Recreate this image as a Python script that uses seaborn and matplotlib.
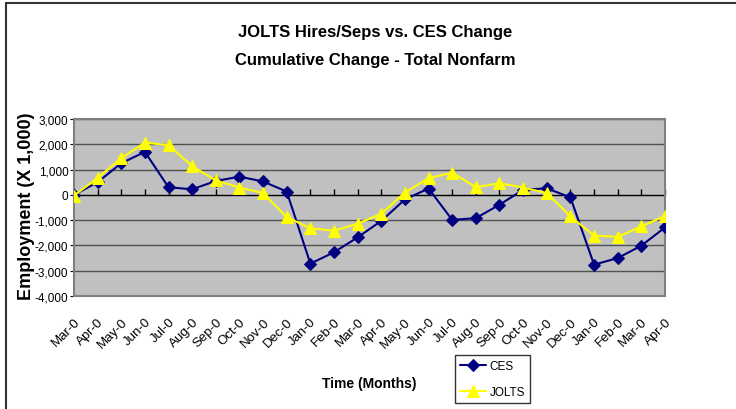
import numpy as np
import pandas as pd
import matplotlib
matplotlib.use("Agg")
import matplotlib.pyplot as plt
import seaborn as sns
from matplotlib.ticker import FuncFormatter

# Data
months = ["Mar-0", "Apr-0", "May-0", "Jun-0", "Jul-0", "Aug-0", "Sep-0", "Oct-0", "Nov-0",
          "Dec-0", "Jan-0", "Feb-0", "Mar-0", "Apr-0", "May-0", "Jun-0", "Jul-0", "Aug-0",
          "Sep-0", "Oct-0", "Nov-0", "Dec-0", "Jan-0", "Feb-0", "Mar-0", "Apr-0"]
ces = [0, 500, 1250, 1700, 300, 220, 550, 720, 530, 130, -2720, -2270, -1680, -1030,
       -180, 250, -990, -920, -390, 200, 260, -100, -2760, -2500, -2010, -1290]
jolts = [-30, 670, 1450, 2070, 1960, 1140, 570, 290, 70, -880, -1320, -1420, -1140,
         -750, 90, 660, 880, 300, 460, 290, 70, -850, -1610, -1660, -1250, -830]

df = pd.DataFrame({"idx": np.arange(len(months)), "CES": ces, "JOLTS": jolts})

sns.set_style("white")
plt.rcParams["font.family"] = ["Liberation Sans Narrow", "Liberation Sans", "DejaVu Sans"]
plt.rcParams["text.color"] = "black"
plt.rcParams["axes.labelcolor"] = "black"
plt.rcParams["xtick.color"] = "black"
plt.rcParams["ytick.color"] = "black"

fig = plt.figure(figsize=(7.36, 4.10), dpi=100)
ax = fig.add_axes([0.1005, 0.2756, 0.803, 0.4317])
ax.set_facecolor("#C0C0C0")

# horizontal gridlines
for v in range(-3000, 3001, 1000):
    if v != 0:
        ax.axhline(v, color="#505050", lw=1.0, zorder=1)
ax.axhline(0, color="black", lw=1.0, zorder=1)

sns.lineplot(data=df, x="idx", y="CES", ax=ax, color="#000080", marker="D",
             markersize=6, markeredgecolor="#000080", lw=1.5, label="CES", zorder=3)
sns.lineplot(data=df, x="idx", y="JOLTS", ax=ax, color="#FFFF00", marker="^",
             markersize=8, markeredgecolor="#FFFF00", lw=1.5, label="JOLTS", zorder=4)

ax.set_xlim(0, len(months) - 1)
ax.set_ylim(-4000, 3000)
ax.set_yticks(range(-4000, 3001, 1000))
ax.yaxis.set_major_formatter(FuncFormatter(lambda v, p: f"{int(v):,}"))
ax.tick_params(axis="y", length=3, direction="out", labelsize=8.5, pad=1, left=True, color="black")

for s in ax.spines.values():
    s.set_color("#808080")
    s.set_linewidth(1.5)

# category labels at bottom
ax.set_xticks(df["idx"])
ax.set_xticklabels(months, rotation=45, ha="right", rotation_mode="anchor", fontsize=9.5)
ax.tick_params(axis="x", length=0, pad=14)

# tick marks on the zero line
zero = ax.secondary_xaxis(4 / 7)
zero.set_xticks(df["idx"])
zero.set_xticklabels([])
zero.tick_params(axis="x", direction="out", length=4, color="black", width=1)
zero.spines["bottom"].set_visible(False)
zero.spines["top"].set_visible(False)

ax.set_xlabel("Time (Months)", fontsize=10, fontweight="bold")
ax.xaxis.set_label_coords(0.50, -0.45)
ax.set_ylabel("Employment (X 1,000)", fontsize=13, fontweight="bold", family=["Liberation Sans", "DejaVu Sans"])
ax.yaxis.set_label_coords(-0.066, 0.51)

fig.text(0.51, 0.92, "JOLTS Hires/Seps vs. CES Change", ha="center", va="center",
         fontsize=12, fontweight="bold")
fig.text(0.51, 0.853, "Cumulative Change - Total Nonfarm", ha="center", va="center",
         fontsize=12, fontweight="bold")

leg = ax.legend(loc="upper left", bbox_to_anchor=(0.645, -0.335), fontsize=8.5, frameon=True,
                fancybox=False, edgecolor="black", handlelength=2.2, borderpad=0.4,
                labelspacing=1.2, handletextpad=0.3, borderaxespad=0)
leg.get_frame().set_linewidth(1.0)

# chart area border (top and left edges visible)
fig.add_artist(plt.Line2D([6 / 736, 1], [1 - 4 / 410, 1 - 4 / 410], color="#333333", lw=1.5))
fig.add_artist(plt.Line2D([6 / 736, 6 / 736], [0, 1 - 4 / 410], color="#333333", lw=1.5))

fig.savefig("out.png", dpi=100)
